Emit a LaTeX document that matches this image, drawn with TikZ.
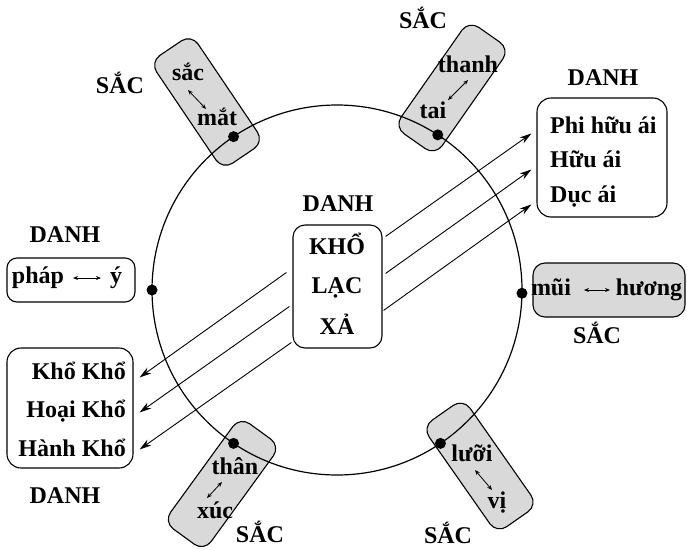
\documentclass[tikz,border=0pt]{standalone}
\usepackage{fontspec}
\setmainfont{Liberation Serif}
\usetikzlibrary{arrows.meta}

\begin{document}
\begin{tikzpicture}[x=1pt,y=-1pt,
  chu/.style={font=\fontsize{24}{28}\selectfont\bfseries, inner sep=0pt, anchor=base},
  hop/.style={draw, rounded corners=12pt, line width=1.1pt, inner sep=0pt},
  hopxam/.style={hop, fill=black!15, minimum width=130pt, minimum height=50pt},
  cham/.style={circle, fill=black, inner sep=0pt, minimum size=11pt},
  muiten/.style={-{Stealth[length=12pt,width=7pt]}, line width=0.9pt},
  haichieu/.style={{Stealth[length=5pt,width=4pt]}-{Stealth[length=5pt,width=4pt]}, line width=0.8pt}]
\useasboundingbox (0,0) rectangle (687,549);
% khung xam (sac)
\node[hopxam, rotate=-56] (kmat) at (207,102) {};
\node[hopxam, rotate=55] (ktai) at (452,88) {};
\node[hopxam, rotate=54] (kthan) at (222,484) {};
\node[hopxam, rotate=-55] (kluoi) at (480,466) {};
\node[hop, fill=black!15, minimum width=152pt, minimum height=54pt] (kmui) at (609,290) {};
% vong tron
\node[draw, circle, line width=1.2pt, minimum size=370pt, inner sep=0pt, outer sep=0pt] (vong) at (337,290) {};
\node[cham] (c1) at (vong.124) {};
\node[cham] (c2) at (vong.57) {};
\node[cham] (c3) at (vong.236) {};
\node[cham] (c4) at (vong.304) {};
\node[cham] (c5) at (vong.180) {};
\node[cham] (c6) at (vong.-1) {};
% khung danh
\node[hop, minimum width=89pt, minimum height=123pt] (tam) at (337.5,286.5) {};
\node[hop, rounded corners=14pt, minimum width=130pt, minimum height=119pt] (ai) at (602,157.5) {};
\node[hop, rounded corners=14pt, minimum width=126pt, minimum height=120pt] (kho) at (70,408) {};
\node[hop, rounded corners=10pt, minimum width=128pt, minimum height=44pt] (phapy) at (71,280) {};
% chu
\node[chu] (sac) at (188,80) {sắc};
\node[chu] (mat) at (217,125) {mắt};
\node[chu] (thanh) at (468,72) {thanh};
\node[chu] (tai) at (433,118) {tai};
\node[chu] (than) at (235,474) {thân};
\node[chu] (xuc) at (215,518) {xúc};
\node[chu] (luoi) at (472,461) {lưỡi};
\node[chu] (vi) at (497,508) {vị};
\node[chu] (phap) at (38,283) {pháp};
\node[chu] (y) at (116,283) {ý};
\node[chu] (mui) at (551,295) {mũi};
\node[chu] (huong) at (649,295) {hương};
\node[chu] (khoc) at (337,254) {KHỔ};
\node[chu] (lac) at (337,293) {LẠC};
\node[chu] (xa) at (337,334) {XẢ};
\node[chu, anchor=base west] (phi) at (550,133) {Phi hữu ái};
\node[chu, anchor=base west] (huu) at (550,167) {Hữu ái};
\node[chu, anchor=base west] (duc) at (550,202) {Dục ái};
\node[chu, anchor=base east] (khokho) at (126,379) {Khổ Khổ};
\node[chu, anchor=base east] (hoai) at (126,417) {Hoại Khổ};
\node[chu, anchor=base east] (hanh) at (126,456) {Hành Khổ};
% nhan
\node[chu] (s1) at (120,93) {SẮC};
\node[chu] (s2) at (423,28) {SẮC};
\node[chu] (s3) at (597,343) {SẮC};
\node[chu] (s4) at (260,542) {SẮC};
\node[chu] (s5) at (448,543) {SẮC};
\node[chu] (d1) at (338,211) {DANH};
\node[chu] (d2) at (603,85) {DANH};
\node[chu] (d3) at (65,242) {DANH};
\node[chu] (d4) at (65,503) {DANH};
% mui ten
\draw[haichieu] ([shift={(0,10)}]sac.base) -- ([shift={(-11,-16)}]mat.base);
\draw[haichieu] ([shift={(0,8)}]thanh.base) -- ([shift={(15,-18)}]tai.base);
\draw[haichieu] ([shift={(-13,8)}]than.base) -- ([shift={(-8,-20)}]xuc.base);
\draw[haichieu] ([shift={(3,9)}]luoi.base) -- ([shift={(-5,-18)}]vi.base);
\draw[haichieu] ([shift={(35,-5)}]phap.base) -- ([shift={(-15,-5)}]y.base);
\draw[haichieu] ([shift={(33,-5)}]mui.base) -- ([shift={(-39,-5)}]huong.base);
\draw[muiten] ([shift={(3,12)}]tam.north east) -- ([shift={(-5,36)}]ai.north west);
\draw[muiten] ([shift={(3,49)}]tam.north east) -- ([shift={(-5,72)}]ai.north west);
\draw[muiten] ([shift={(1,86)}]tam.north east) -- ([shift={(-5,107)}]ai.north west);
\draw[muiten] ([shift={(-6,48)}]tam.north west) -- ([shift={(6,30)}]kho.north east);
\draw[muiten] ([shift={(-3,82)}]tam.north west) -- ([shift={(6,65)}]kho.north east);
\draw[muiten] ([shift={(-1,118)}]tam.north west) -- ([shift={(6,102)}]kho.north east);
\end{tikzpicture}
\end{document}
